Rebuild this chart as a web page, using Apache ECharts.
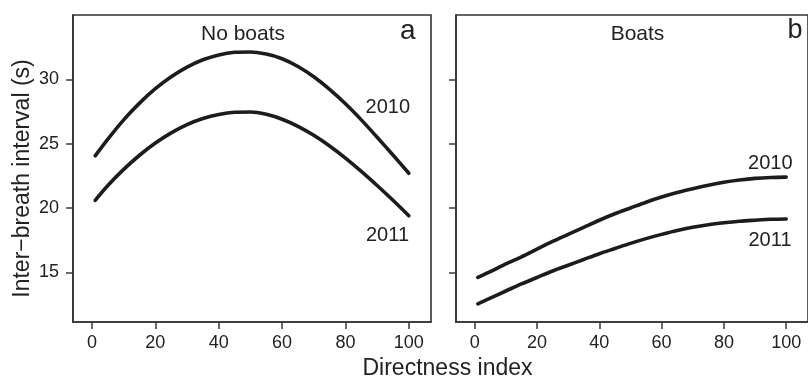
<!DOCTYPE html>
<html>
<head>
<meta charset="utf-8">
<script src="https://cdn.jsdelivr.net/npm/echarts@6/dist/echarts.min.js"></script>
<style>
html,body{margin:0;padding:0;background:#fff;}
#chart{width:808px;height:378px;}
</style>
</head>
<body>
<div id="chart"></div>
<script>
// ---- data ----
const directness  = [1, 5, 10, 15, 20, 25, 30, 35, 40, 45, 50, 55, 60, 65, 70, 75, 80, 85, 90, 95, 100];
const noBoats2010 = [24.05, 25.35, 26.85, 28.15, 29.27, 30.2, 30.95, 31.52, 31.9, 32.1, 32.13, 31.96, 31.6, 31.0, 30.2, 29.22, 28.1, 26.85, 25.5, 24.12, 22.7];
const noBoats2011 = [20.6, 21.75, 23.0, 24.1, 25.05, 25.84, 26.48, 26.95, 27.27, 27.44, 27.46, 27.28, 26.9, 26.35, 25.65, 24.82, 23.88, 22.85, 21.75, 20.6, 19.4];
const boats2010   = [14.6, 15.05, 15.65, 16.2, 16.8, 17.4, 17.95, 18.5, 19.05, 19.55, 20.0, 20.45, 20.85, 21.2, 21.5, 21.77, 22.0, 22.17, 22.3, 22.37, 22.4];
const boats2011   = [12.55, 13.0, 13.55, 14.1, 14.6, 15.1, 15.55, 16.0, 16.45, 16.85, 17.25, 17.62, 17.95, 18.25, 18.5, 18.7, 18.85, 18.97, 19.05, 19.12, 19.15];
const xTicks = [0, 20, 40, 60, 80, 100];
const yTicks = [15, 20, 25, 30];
const panelTitles = ['No boats', 'Boats'];
const panelLetters = ['a', 'b'];
const yearLabels = ['2010', '2011'];
const xTitle = 'Directness index';
const yTitle = 'Inter\u2212breath interval (s)';

const FONT = '"Liberation Sans", Arial, Helvetica, sans-serif';
const TXT = '#222';
const lineColor = '#1c1c1c';

function pairs(ys){ return directness.map((x,i)=>[x, ys[i]]); }

function xAxisDef(idx){
  return {
    type:'value', gridIndex:idx, min:-6, max:107, position:'bottom',
    axisLine:{show:true, onZero:false, lineStyle:{color:'#333', width:1.6}},
    splitLine:{show:false},
    axisTick:{show:true, inside:false, length:7, lineStyle:{color:'#3a3a3a', width:1.5}, customValues:xTicks},
    axisLabel:{show:true, customValues:xTicks, margin:12, fontSize:18, fontFamily:FONT, color:TXT}
  };
}
function yAxisDef(idx, labels){
  return {
    type:'value', gridIndex:idx, min:11.14, max:35, position:'left',
    axisLine:{show:true, onZero:false, lineStyle:{color:'#333', width:1.6}},
    splitLine:{show:false},
    axisTick:{show:true, inside:false, length:7, lineStyle:{color:'#3a3a3a', width:1.5}, customValues:yTicks},
    axisLabel:{show:labels, customValues:yTicks, margin:14, fontSize:18, fontFamily:FONT, color:TXT}
  };
}
function lineSeries(ax, ys){
  return {
    type:'line', xAxisIndex:ax, yAxisIndex:ax, data:pairs(ys),
    smooth:0.3, showSymbol:false, silent:true, animation:false,
    lineStyle:{color:lineColor, width:3.6, cap:'round', join:'round'}
  };
}
function txt(text, x, y, size, align, rot){
  return {type:'text', x:x, y:y, rotation:rot||0, silent:true,
    style:{text:text, font: size+'px '+FONT, fill:TXT, align:align||'center', verticalAlign:'middle'}};
}

const chart = echarts.init(document.getElementById('chart'), null, {renderer:'canvas'});
chart.setOption({
  animation:false,
  backgroundColor:'#fff',
  grid:[
    {left:73, top:15, width:358, height:307, show:true, borderColor:'#333', borderWidth:1.6, backgroundColor:'transparent'},
    {left:456, top:15, width:358, height:307, show:true, borderColor:'#333', borderWidth:1.6, backgroundColor:'transparent'}
  ],
  xAxis:[xAxisDef(0), xAxisDef(1)],
  yAxis:[yAxisDef(0,true), yAxisDef(1,false)],
  series:[
    lineSeries(0, noBoats2010),
    lineSeries(0, noBoats2011),
    lineSeries(1, boats2010),
    lineSeries(1, boats2011)
  ],
  graphic:[
    txt(panelTitles[0], 243, 34, 21),
    txt(panelTitles[1], 637.5, 34, 21),
    txt(panelLetters[0], 415.5, 31.5, 28, 'right'),
    txt(panelLetters[1], 802.5, 30.5, 27, 'right'),
    txt(yearLabels[0], 410, 107.5, 20, 'right'),
    txt(yearLabels[1], 409, 235, 20, 'right'),
    txt(yearLabels[0], 792.5, 163, 20, 'right'),
    txt(yearLabels[1], 791.5, 240, 20, 'right'),
    txt(xTitle, 447.5, 369, 23),
    txt(yTitle, 22.5, 178.5, 23, 'center', Math.PI/2)
  ]
});
</script>
</body>
</html>
